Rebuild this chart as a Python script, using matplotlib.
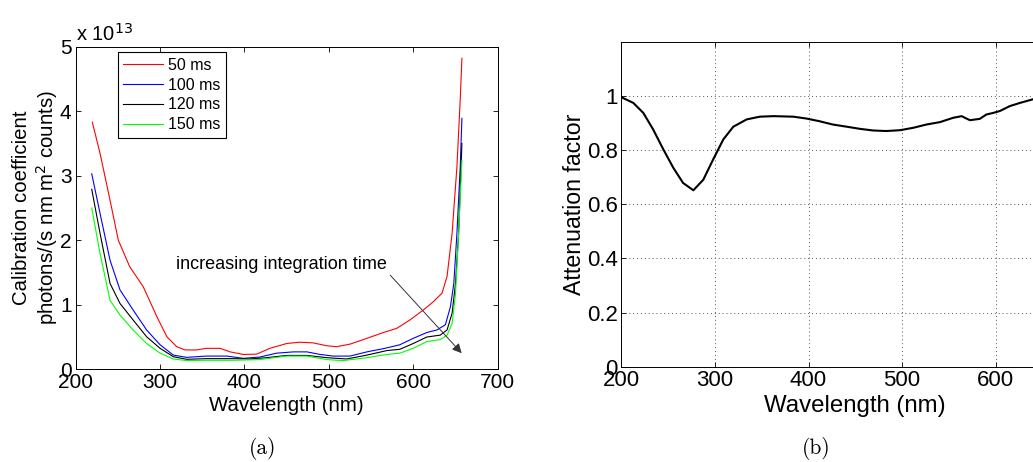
import matplotlib
matplotlib.use("Agg")
import matplotlib.pyplot as plt
import numpy as np

# ---------------- data: panel (a) (values in units of 1e13) ----------------
wl_50 = [219.7, 228.8, 240.7, 250.5, 264, 280, 296, 308, 319.7, 329.6, 343, 355, 371, 383,
         398.7, 414.5, 430, 450, 465.5, 481, 497.5, 509, 525, 545, 564.6, 580.5, 596, 612,
         624, 634, 640, 646, 651.7, 655.6, 657.6]
cc_50 = [3.83, 3.35, 2.62, 2.0, 1.59, 1.28, 0.82, 0.505, 0.35, 0.30, 0.30, 0.325, 0.325, 0.27,
         0.23, 0.235, 0.325, 0.40, 0.42, 0.41, 0.365, 0.35, 0.39, 0.48, 0.57, 0.635, 0.765, 0.92,
         1.05, 1.18, 1.44, 2.11, 3.14, 4.18, 4.82]

wl_100 = [219, 228.8, 240.7, 252.5, 268, 284, 300, 315.7, 331.6, 355, 379, 398.7, 418, 438,
          458, 474, 489.6, 505, 525, 545, 564.6, 584, 600, 616, 628, 638, 644, 648, 651.7,
          655.6, 657.6]
cc_100 = [3.03, 2.42, 1.69, 1.23, 0.92, 0.61, 0.38, 0.22, 0.185, 0.205, 0.205, 0.17, 0.19, 0.25,
          0.27, 0.27, 0.23, 0.205, 0.205, 0.27, 0.32, 0.38, 0.48, 0.57, 0.61, 0.69, 0.97, 1.33,
          2.11, 3.14, 3.89]

wl_120 = [219, 228.8, 240.7, 252.5, 268, 284, 300, 315.7, 331.6, 355, 387, 406, 426, 450,
          474, 497.5, 521, 545, 568.6, 584, 600, 616, 632, 640, 646, 650, 653.7, 657.6]
cc_120 = [2.79, 2.11, 1.33, 1.02, 0.765, 0.505, 0.325, 0.195, 0.155, 0.165, 0.165, 0.16, 0.18,
          0.215, 0.215, 0.18, 0.16, 0.22, 0.29, 0.31, 0.40, 0.50, 0.53, 0.61, 0.87, 1.33, 2.11, 3.50]

wl_150 = [219, 228.8, 240.7, 252.5, 268, 284, 300, 315.7, 331.6, 355, 387, 418, 450, 474,
          497.5, 517, 545, 568.6, 584, 600, 616, 632, 640, 646, 650, 653.7, 657.6]
cc_150 = [2.50, 1.80, 1.07, 0.84, 0.61, 0.40, 0.25, 0.16, 0.135, 0.14, 0.14, 0.15, 0.205, 0.205,
          0.15, 0.135, 0.18, 0.23, 0.25, 0.325, 0.43, 0.46, 0.53, 0.71, 1.17, 2.11, 3.24]

labels_a = ["50 ms", "100 ms", "120 ms", "150 ms"]
colors_a = ["#ff0000", "#0000ff", "#000000", "#00ff00"]

# ---------------- data: panel (b) ----------------
wl_att = [200, 212.8, 223.5, 234, 244.9, 255.6, 266, 277, 287.6, 298, 309, 319.7, 334, 348,
          362.5, 383.8, 398, 412, 426, 440.8, 455, 469, 483, 497.7, 512, 526, 540.5, 554.7,
          563.7, 567, 572.5, 583, 590, 597.4, 604.5, 615, 626, 639.5, 645]
att = [0.996, 0.975, 0.938, 0.877, 0.803, 0.735, 0.679, 0.652, 0.691, 0.765, 0.84, 0.887, 0.914,
       0.924, 0.926, 0.924, 0.917, 0.907, 0.895, 0.887, 0.879, 0.873, 0.871, 0.874, 0.883, 0.895,
       0.904, 0.92, 0.926, 0.92, 0.911, 0.916, 0.932, 0.938, 0.945, 0.963, 0.975, 0.988, 0.992]

FONT = "Liberation Sans"
plt.rcParams["font.family"] = FONT

W, H = 1033, 462
fig = plt.figure(figsize=(W / 100, H / 100), dpi=100)

def frac(x0, y0, x1, y1):
    return [x0 / W, 1 - y1 / H, (x1 - x0) / W, (y1 - y0) / H]

# ---------------- panel (a) ----------------
ax1 = fig.add_axes(frac(75.7, 46.7, 497.7, 369.3))
series = [(wl_50, cc_50), (wl_100, cc_100), (wl_120, cc_120), (wl_150, cc_150)]
for (x, y), lab, c in zip(series, labels_a, colors_a):
    ax1.plot(x, y, color=c, lw=0.8, label=lab)
ax1.set_xlim(200, 700)
ax1.set_ylim(0, 5)
ax1.set_xticks([200, 300, 400, 500, 600, 700])
ax1.set_yticks([0, 1, 2, 3, 4, 5])
ax1.tick_params(direction="in", top=True, right=True, length=3.5, width=0.6,
                labelsize=15, pad=3)
for s in ax1.spines.values():
    s.set_linewidth(0.7)
ax1.set_xlabel("Wavelength (nm)", fontsize=14.7, labelpad=2.5)
ax1.set_ylabel("Calibration coefficient\nphotons/(s nm m$^2$ counts)", fontsize=14.7,
               labelpad=0, linespacing=1.15)
ax1.text(0.0, 1.005, r"x 10$^{13}$", transform=ax1.transAxes, fontsize=14.5,
         ha="left", va="bottom")
leg = ax1.legend(loc="upper left", bbox_to_anchor=(0.1, 0.983), fontsize=11.5,
                 fancybox=False, edgecolor="black", framealpha=1, handlelength=2.5,
                 borderpad=0.35, labelspacing=0.3, handletextpad=0.3, borderaxespad=0)
leg.get_frame().set_linewidth(0.8)
ax1.annotate("", xy=(657.3, 0.25), xytext=(572.6, 1.46),
             arrowprops=dict(arrowstyle="-|>", color="#333333", lw=0.7,
                             mutation_scale=14, shrinkA=0, shrinkB=0))
ax1.text(318.5, 1.62, "increasing integration time", fontsize=13, ha="left",
         va="center", color="black")
fig.text(263 / W, 1 - 448 / H, "(a)", fontfamily="cmr10", fontsize=15.5,
         ha="center", va="center")

# ---------------- panel (b) ----------------
ax2 = fig.add_axes(frac(621.3, 42, 621.3 + 5 * 93.6, 366.7))
ax2.plot(wl_att, att, color="black", lw=1.5)
ax2.set_xlim(200, 700)
ax2.set_ylim(0, 1.2)
ax2.set_xticks([200, 300, 400, 500, 600, 700])
ax2.set_yticks([0, 0.2, 0.4, 0.6, 0.8, 1.0])
ax2.set_yticklabels(["0", "0.2", "0.4", "0.6", "0.8", "1"])
ax2.grid(True, linestyle=(0, (1, 3)), color="#555555", lw=0.7)
ax2.tick_params(direction="in", top=True, right=True, length=3.5, width=0.6,
                labelsize=16, pad=2.5)
for s in ax2.spines.values():
    s.set_linewidth(0.7)
ax2.set_xlabel("Wavelength (nm)", fontsize=17.3, labelpad=2.5)
ax2.set_ylabel("Attenuation factor", fontsize=16.7, labelpad=0.5)
fig.text(816.7 / W, 1 - 448 / H, "(b)", fontfamily="cmr10", fontsize=15.5,
         ha="center", va="center")

fig.savefig("out.png", dpi=100)
